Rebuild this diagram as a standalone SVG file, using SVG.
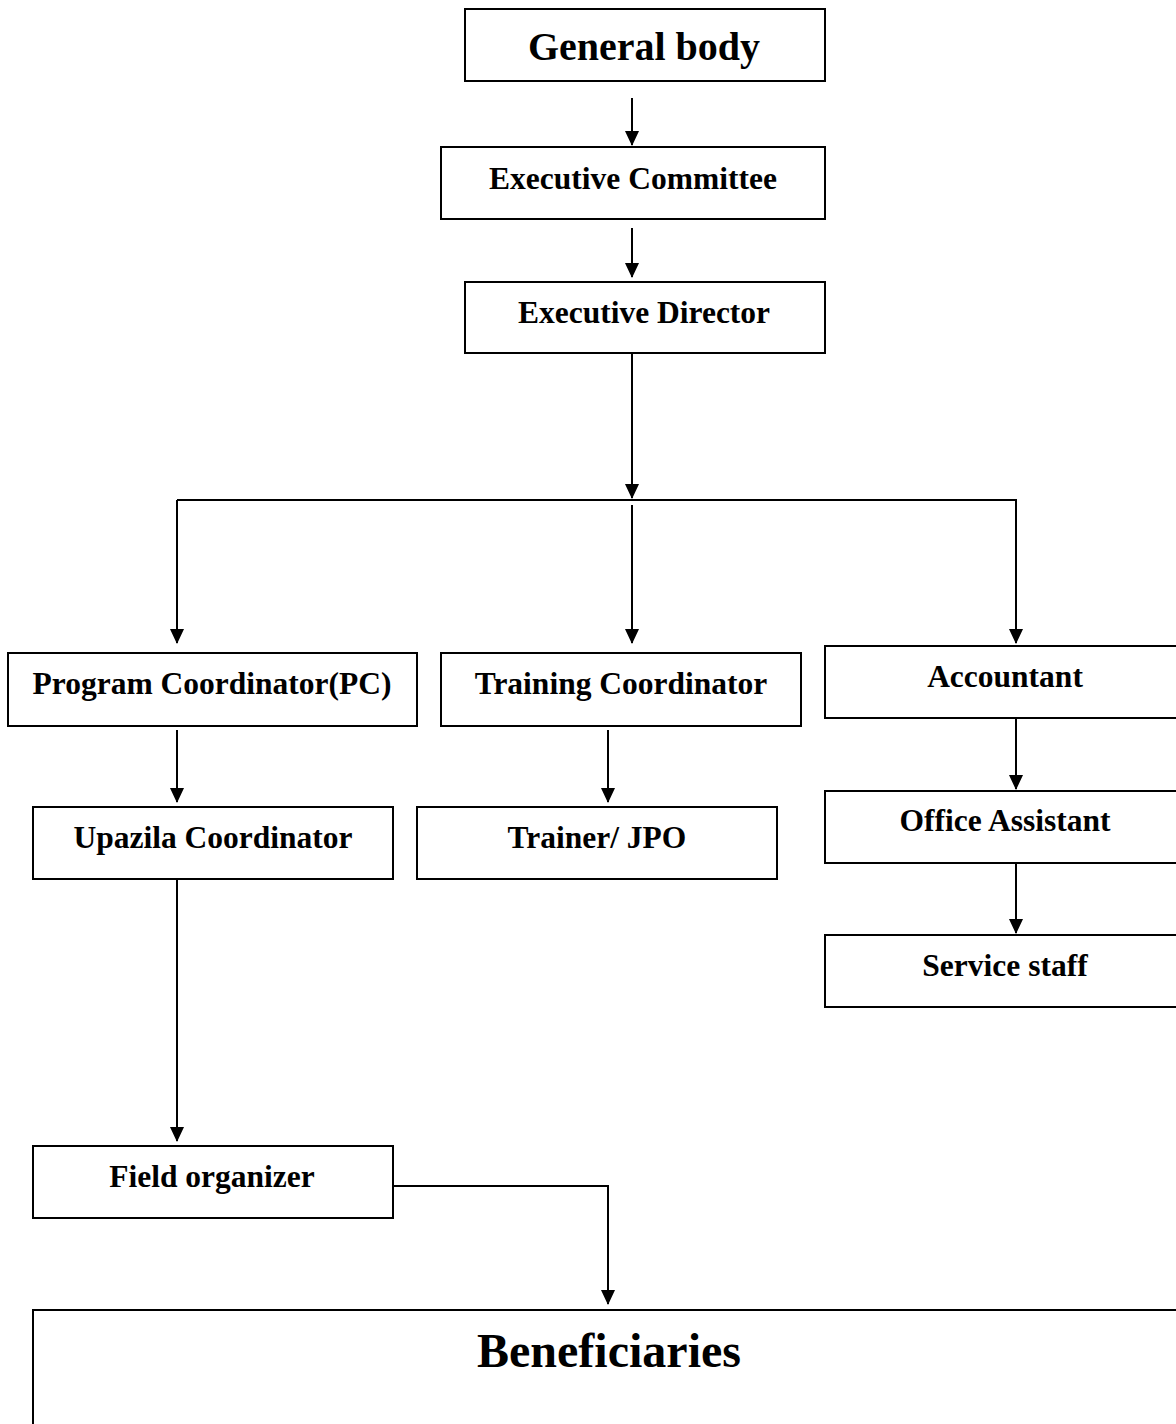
<svg xmlns="http://www.w3.org/2000/svg" width="1176" height="1424" viewBox="0 0 1176 1424">
<style>
.box{fill:#fff;stroke:#000;stroke-width:2}
.lbl{font-family:"Liberation Serif","Times New Roman",serif;font-weight:bold;font-size:31.5px;fill:#000;text-anchor:middle}
.big{font-size:40px}
.huge{font-size:48px}
.conn{fill:none;stroke:#000;stroke-width:2}
</style>
<defs>
<marker id="arr" viewBox="0 0 15 14" markerWidth="15" markerHeight="14" refX="14" refY="7" orient="auto" markerUnits="userSpaceOnUse">
<path d="M0,0 L15,7 L0,14 z" fill="#000"/>
</marker>
</defs>
<rect width="1176" height="1424" fill="#fff"/>
<g id="connectors">
<line class="conn" x1="632" y1="98" x2="632" y2="145" marker-end="url(#arr)"/>
<line class="conn" x1="632" y1="228" x2="632" y2="277" marker-end="url(#arr)"/>
<line class="conn" x1="632" y1="353" x2="632" y2="498" marker-end="url(#arr)"/>
<line class="conn" x1="177" y1="500" x2="1017" y2="500"/>
<line class="conn" x1="177" y1="500" x2="177" y2="643" marker-end="url(#arr)"/>
<line class="conn" x1="632" y1="505" x2="632" y2="643" marker-end="url(#arr)"/>
<line class="conn" x1="1016" y1="500" x2="1016" y2="643" marker-end="url(#arr)"/>
<line class="conn" x1="177" y1="730" x2="177" y2="802" marker-end="url(#arr)"/>
<line class="conn" x1="608" y1="730" x2="608" y2="802" marker-end="url(#arr)"/>
<line class="conn" x1="1016" y1="718" x2="1016" y2="789" marker-end="url(#arr)"/>
<line class="conn" x1="1016" y1="863" x2="1016" y2="933" marker-end="url(#arr)"/>
<line class="conn" x1="177" y1="879" x2="177" y2="1141" marker-end="url(#arr)"/>
<polyline class="conn" points="393,1186 608,1186 608,1304" marker-end="url(#arr)"/>
</g>
<g id="general-body"><rect class="box" x="465" y="9" width="360" height="72"/><text class="lbl big" x="644" y="60">General body</text></g>
<g id="executive-committee"><rect class="box" x="441" y="147" width="384" height="72"/><text class="lbl" x="633" y="189">Executive Committee</text></g>
<g id="executive-director"><rect class="box" x="465" y="282" width="360" height="71"/><text class="lbl" x="644" y="323">Executive Director</text></g>
<g id="program-coordinator"><rect class="box" x="8" y="653" width="409" height="73"/><text class="lbl" x="212" y="694">Program Coordinator(PC)</text></g>
<g id="training-coordinator"><rect class="box" x="441" y="653" width="360" height="73"/><text class="lbl" x="621" y="694">Training Coordinator</text></g>
<g id="accountant"><rect class="box" x="825" y="646" width="360" height="72"/><text class="lbl" x="1005" y="687">Accountant</text></g>
<g id="upazila-coordinator"><rect class="box" x="33" y="807" width="360" height="72"/><text class="lbl" x="213" y="848">Upazila Coordinator</text></g>
<g id="trainer-jpo"><rect class="box" x="417" y="807" width="360" height="72"/><text class="lbl" x="597" y="848">Trainer/ JPO</text></g>
<g id="office-assistant"><rect class="box" x="825" y="791" width="360" height="72"/><text class="lbl" x="1005" y="831">Office Assistant</text></g>
<g id="service-staff"><rect class="box" x="825" y="935" width="360" height="72"/><text class="lbl" x="1005" y="976">Service staff</text></g>
<g id="field-organizer"><rect class="box" x="33" y="1146" width="360" height="72"/><text class="lbl" x="212" y="1187">Field organizer</text></g>
<g id="beneficiaries"><rect class="box" x="33" y="1310" width="1160" height="130"/><text class="lbl huge" x="609" y="1367">Beneficiaries</text></g>
</svg>
